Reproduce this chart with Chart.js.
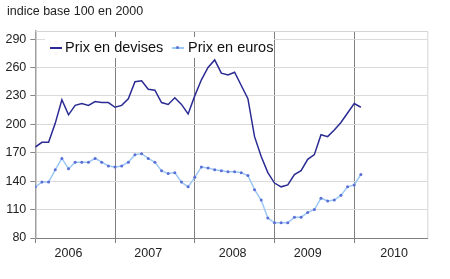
<!DOCTYPE html>
<html lang="fr">
<head>
<meta charset="utf-8">
<script src="https://cdn.jsdelivr.net/npm/chart.js@4/dist/chart.umd.min.js"></script>
<style>
    body { margin: 0; background: #fff; }
    #cadre { position: relative; width: 450px; height: 279px; }
    #titre {
        position: absolute; left: 7px; top: 4px;
        font: 12.5px "Liberation Sans", Arial, sans-serif; color: #222;
    }
    #legende {
        position: absolute; left: 45px; top: 37px; width: 229px; height: 21px;
        background: #fff; font: 14.5px "Liberation Sans", Arial, sans-serif; color: #111;
    }
    #legende .trait { position: absolute; top: 10px; height: 1.5px; }
    #legende .texte { position: absolute; top: 0; line-height: 21px; white-space: nowrap; }
    #legende .point {
        position: absolute; top: 9px; width: 3px; height: 3px; border-radius: 50%;
        background: #5B6FD6;
    }
</style>
</head>
<body>
<div id="cadre">
    <canvas id="graphique" width="450" height="279"></canvas>
    <div id="titre">indice base 100 en 2000</div>
    <div id="legende">
        <span class="trait" style="left:5px;width:12px;background:#2B2B94"></span>
        <span class="texte" style="left:20px">Prix en devises</span>
        <span class="trait" style="left:127px;width:11.5px;background:#9CC8F5"></span>
        <span class="point" style="left:131px"></span>
        <span class="texte" style="left:143px">Prix en euros</span>
    </div>
</div>

<script>
// ============================================================
//  DONNÉES (mensuelles, janvier 2006 -> février 2010)
// ============================================================

const annees = ['2006', '2007', '2008', '2009', '2010'];
const posAnnees = [5, 17, 29.7, 41, 54];        // position des libellés (mois)
const separateurs = [0, 12, 24, 36, 48];         // début de chaque année
const ticksY = [80, 110, 140, 170, 200, 230, 260, 290];

const prixDevises = [
    176, 181, 181, 201, 226, 210, 220, 222, 220, 224, 223, 223,
    218, 220, 227, 245, 246, 237, 236, 223, 221, 228, 221, 211,
    230, 247, 260, 268, 254, 252, 255, 241, 227, 187, 166, 149,
    138, 134, 136, 147, 151, 163, 168, 189, 187, 194, 202, 212,
    222, 218
];

const prixEuros = [
    134, 139, 139, 152, 164, 153, 160, 160, 160, 164, 160, 156,
    155, 156, 160, 168, 169, 164, 160, 151, 148, 149, 139, 134,
    144, 155, 154, 152, 151, 150, 150, 149, 146, 131, 120, 101,
    96, 96, 96, 102, 102, 107, 110, 122, 119, 120, 125, 134,
    136, 147
];

// ============================================================
//  GRAPHIQUE
// ============================================================

Chart.defaults.font.family = '"Liberation Sans", Arial, sans-serif';
Chart.defaults.font.size = 12.5;
Chart.defaults.color = '#222';

// cadre gris en haut et à droite de la zone de tracé
const cadreZone = {
    id: 'cadreZone',
    beforeDatasetsDraw(chart) {
        const { ctx, chartArea: a } = chart;
        ctx.save();
        ctx.strokeStyle = '#D4D4D4';
        ctx.lineWidth = 1;
        ctx.beginPath();
        ctx.moveTo(a.left, a.top + 0.5);
        ctx.lineTo(a.right + 0.5, a.top + 0.5);
        ctx.lineTo(a.right + 0.5, a.bottom);
        ctx.stroke();
        ctx.restore();
    }
};

const versPoints = serie => serie.map((v, i) => ({ x: i, y: v }));

new Chart(document.getElementById('graphique'), {
    type: 'line',
    data: {
        datasets: [
            {
                label: 'Prix en devises',
                data: versPoints(prixDevises),
                borderColor: '#2B2B94',
                borderWidth: 1.5,
                pointRadius: 0,
                tension: 0
            },
            {
                label: 'Prix en euros',
                data: versPoints(prixEuros),
                borderColor: '#9CC8F5',
                borderWidth: 1.5,
                pointRadius: 1.5,
                pointBorderWidth: 0,
                pointBackgroundColor: '#5B6FD6',
                tension: 0
            }
        ]
    },
    options: {
        responsive: false,
        animation: false,
        devicePixelRatio: 1,
        layout: { padding: { left: 0, right: 22.7, top: 31, bottom: 0 } },
        plugins: {
            legend: { display: false },
            tooltip: { enabled: false }
        },
        scales: {
            x: {
                type: 'linear',
                min: 0,
                max: 59,
                afterBuildTicks: scale => {
                    scale.ticks = separateurs.concat(posAnnees)
                        .sort((a, b) => a - b)
                        .map(v => ({ value: v }));
                },
                afterFit: scale => { scale.height = 41; },
                ticks: {
                    autoSkip: false,
                    maxRotation: 0,
                    padding: 3,
                    color: '#222',
                    callback: v => {
                        const k = posAnnees.indexOf(v);
                        return k >= 0 ? annees[k] : '';
                    }
                },
                grid: {
                    color: c => separateurs.includes(c.tick.value) ? '#808080' : 'transparent',
                    tickColor: c => separateurs.includes(c.tick.value) ? '#808080' : 'transparent',
                    tickLength: 5,
                    lineWidth: 1
                },
                border: { color: '#808080', width: 1 }
            },
            y: {
                min: 80,
                max: 298.5,
                afterBuildTicks: scale => {
                    scale.ticks = ticksY.map(v => ({ value: v }));
                },
                afterFit: scale => { scale.width = 35.3; },
                ticks: { padding: 4, color: '#222' },
                grid: {
                    color: c => c.tick.value === 80 ? 'transparent' : '#DADADA',
                    tickColor: '#888',
                    tickLength: 5
                },
                border: { color: '#A0A0A0', width: 1.5 }
            }
        }
    },
    plugins: [cadreZone]
});
</script>
</body>
</html>
